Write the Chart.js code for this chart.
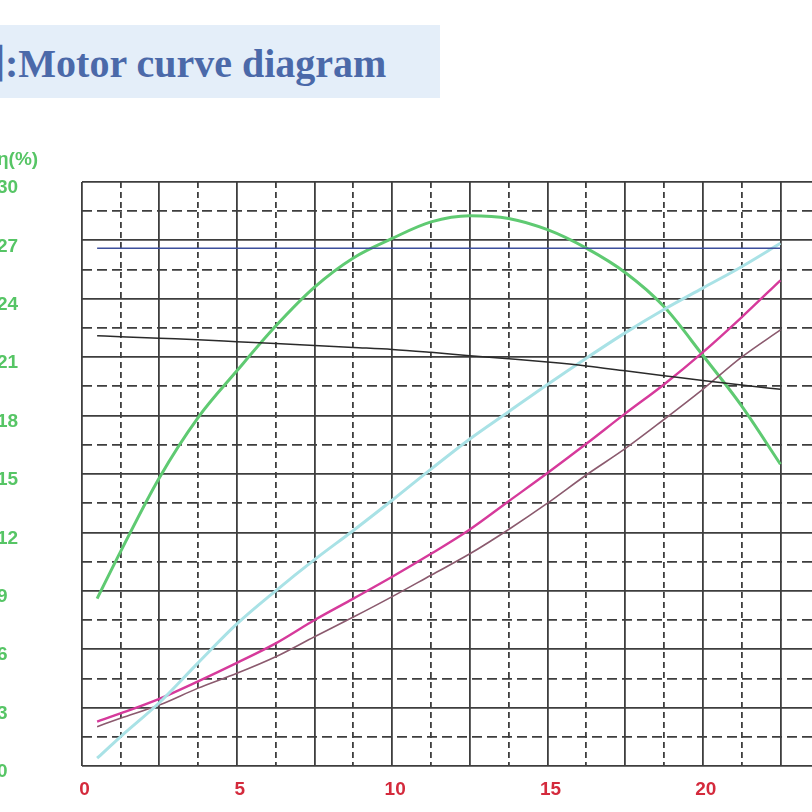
<!DOCTYPE html>
<html>
<head>
<meta charset="utf-8">
<script src="https://cdn.jsdelivr.net/npm/chart.js@4.4.1/dist/chart.umd.min.js"></script>
<style>
  html, body { margin: 0; padding: 0; background: #fff; }
  body { width: 812px; height: 812px; overflow: hidden; position: relative; }
  .banner { position: absolute; left: 0; top: 25px; width: 440px; height: 73px; background: #e4eef9; overflow: hidden; }
  .banner span { position: absolute; left: -35px; top: 6px; line-height: 40px; white-space: nowrap;
    font: bold 40px "Liberation Serif", "Noto Sans CJK SC", serif; color: #4b69a9; }
  .wrap { position: absolute; left: -3px; top: 140px; width: 830px; height: 672px; }
</style>
</head>
<body>
<div class="banner"><span>图:Motor curve diagram</span></div>
<div class="wrap"><canvas id="motorChart"></canvas></div>
<script>
// load points along the x axis
const loadX = [0.5, 1.25, 2.5, 3.75, 5, 6.25, 7.5, 8.75, 10, 11.25, 12.5, 13.75, 15, 16.25, 17.5, 18.75, 20, 21.25, 22.5];

const efficiency = [8.6, 11.0, 14.8, 17.9, 20.3, 22.6, 24.6, 26.1, 27.1, 27.95, 28.27, 28.13, 27.55, 26.6, 25.35, 23.6, 21.1, 18.5, 15.5];
const current    = [0.4, 1.5, 3.25, 5.3, 7.3, 9.0, 10.6, 12.1, 13.65, 15.25, 16.8, 18.2, 19.6, 20.95, 22.25, 23.45, 24.55, 25.65, 26.85];
const outPower   = [2.28, 2.7, 3.45, 4.35, 5.3, 6.3, 7.5, 8.6, 9.72, 10.9, 12.15, 13.6, 15.05, 16.55, 18.1, 19.6, 21.25, 23.05, 24.95];
const inPower    = [2.02, 2.45, 3.13, 4.0, 4.76, 5.61, 6.64, 7.65, 8.7, 9.8, 10.9, 12.15, 13.5, 14.95, 16.3, 17.8, 19.35, 21.0, 22.4];
const speed      = [22.1, 22.05, 21.97, 21.9, 21.8, 21.7, 21.6, 21.5, 21.4, 21.25, 21.08, 20.92, 20.75, 20.55, 20.3, 20.05, 19.8, 19.57, 19.35];
const voltage    = [26.6, 26.6, 26.6, 26.6, 26.6, 26.6, 26.6, 26.6, 26.6, 26.6, 26.6, 26.6, 26.6, 26.6, 26.6, 26.6, 26.6, 26.6, 26.6];

const xTicks = [0, 5, 10, 15, 20];
const yTicks = [0, 3, 6, 9, 12, 15, 18, 21, 24, 27, 30];

function pts(ys) {
    return loadX.map((x, i) => ({ x: x, y: ys[i] }));
}

function line(data, color, width) {
    return {
        data: pts(data),
        borderColor: color,
        borderWidth: width,
        pointRadius: 0,
        cubicInterpolationMode: 'monotone',
        fill: false
    };
}

const gridColor = '#3e3e3e';

const ctx = document.getElementById('motorChart').getContext('2d');

new Chart(ctx, {
    type: 'line',
    data: {
        datasets: [
            line(voltage, '#3d4f9c', 1.5),
            line(speed, '#2a2a2a', 1.5),
            line(current, '#a9e2e6', 3),
            line(inPower, '#8b5a6e', 1.6),
            line(outPower, '#d63a9b', 2.4),
            line(efficiency, '#5fca72', 3)
        ]
    },
    options: {
        responsive: true,
        maintainAspectRatio: false,
        animation: false,
        layout: { padding: 0 },
        plugins: {
            legend: { display: false },
            tooltip: { enabled: false },
            title: {
                display: true,
                text: 'η(%)',
                align: 'start',
                color: '#56c565',
                font: { family: 'Liberation Sans', size: 19, weight: 'bold' },
                padding: { top: 8.6, bottom: 10.6 }
            }
        },
        scales: {
            x: {
                type: 'linear',
                min: 0,
                max: 24,
                afterFit: s => { s.height = 46; s.paddingLeft = 0; s.paddingRight = 0; },
                ticks: {
                    stepSize: 1.25,
                    autoSkip: false,
                    maxRotation: 0,
                    padding: 12,
                    labelOffset: 3,
                    color: '#d42a3c',
                    font: { family: 'Liberation Sans', size: 19, weight: 'bold' },
                    callback: v => xTicks.includes(v) ? String(v) : ''
                },
                grid: { color: gridColor, lineWidth: 1.8, drawTicks: false },
                border: {
                    display: false,
                    dash: c => (c.tick && c.tick.value % 2.5 !== 0) ? [6, 4] : []
                }
            },
            y: {
                min: 0,
                max: 30,
                afterFit: s => { s.width = 84.6; },
                ticks: {
                    stepSize: 1.5,
                    autoSkip: false,
                    padding: 0,
                    crossAlign: 'far',
                    labelOffset: 6,
                    color: '#56c565',
                    font: { family: 'Liberation Sans', size: 19, weight: 'bold' },
                    callback: v => yTicks.includes(v) ? String(v) : ''
                },
                grid: { color: gridColor, lineWidth: 1.8, drawTicks: false },
                border: {
                    display: false,
                    dash: c => (c.tick && c.tick.value % 3 !== 0) ? [10, 5] : []
                }
            }
        }
    }
});
</script>
</body>
</html>
